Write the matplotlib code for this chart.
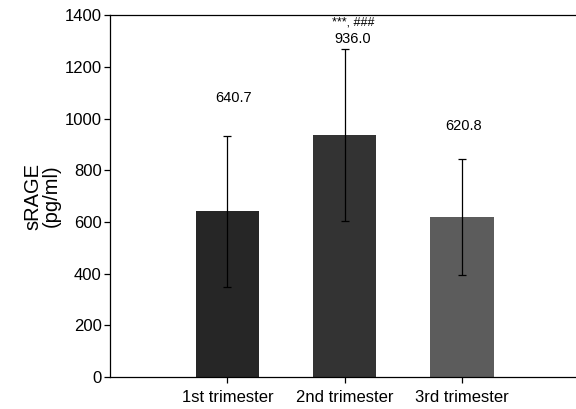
import matplotlib
matplotlib.use('Agg')
import matplotlib.pyplot as plt

plt.rcParams['font.family'] = ['Liberation Sans', 'DejaVu Sans']

groups = ['1st trimester', '2nd trimester', '3rd trimester']
means = [640.7, 936.0, 620.8]
sds = [293, 332, 224]
mean_labels = ['640.7', '936.0', '620.8']
label_heights = [1079, 1307, 971]
signif = '***, ###'
colors = ['#262626', '#333333', '#5c5c5c']

fig = plt.figure(figsize=(5.76, 4.09), dpi=100)
ax = fig.add_axes([0.191, 0.078, 0.809, 0.885])

x = range(len(groups))
ax.bar(x, means, width=0.54, color=colors, zorder=2)
ax.errorbar(x, means, yerr=sds, fmt='none', ecolor='black', elinewidth=0.9,
            capsize=3, capthick=0.9, zorder=3)

offsets = [0.05, 0.07, 0.01]
for i, (lab, h) in enumerate(zip(mean_labels, label_heights)):
    ax.text(i + offsets[i], h, lab, ha='center', va='center', fontsize=10.5)
ax.text(1 + 0.07, 1372, signif, ha='center', va='center', fontsize=9)

ax.set_xlim(-1.0, 2.97)
ax.set_ylim(0, 1400)
ax.set_yticks(range(0, 1401, 200))
ax.set_xticks(list(x))
ax.set_xticklabels(groups, fontsize=12)
ax.tick_params(axis='y', labelsize=12, length=4, width=0.9, pad=2)
ax.tick_params(axis='x', length=4, width=0.9, pad=5)
ax.set_ylabel('sRAGE\n(pg/ml)', fontsize=14.5, labelpad=3, linespacing=0.95)
ax.spines['right'].set_visible(False)
for s in ['left', 'top', 'bottom']:
    ax.spines[s].set_linewidth(0.9)

fig.savefig('out.png', dpi=100)
